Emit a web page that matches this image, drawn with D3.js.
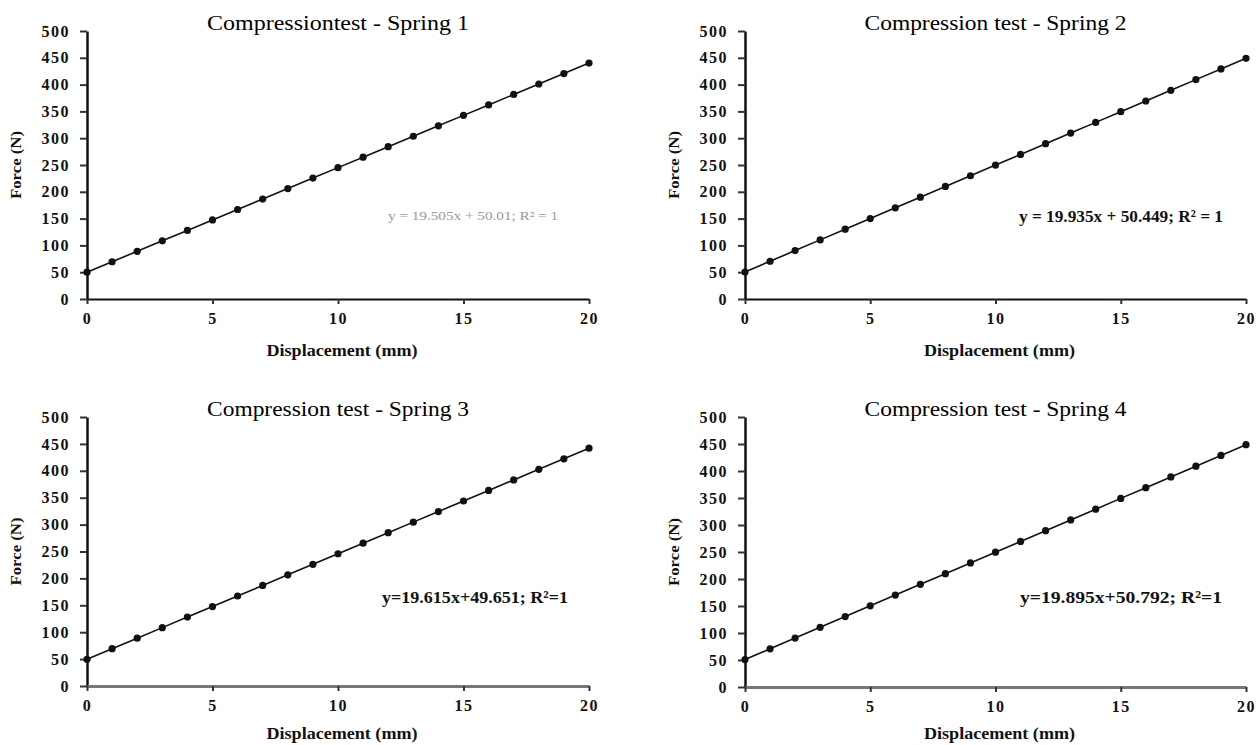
<!DOCTYPE html>
<html>
<head>
<meta charset="utf-8">
<script src="https://cdnjs.cloudflare.com/ajax/libs/d3/7.8.5/d3.min.js"></script>
<style>
  body { margin: 0; background: #fff; }
  svg { display: block; font-family: "Liberation Serif", "DejaVu Serif", serif; }
</style>
</head>
<body>
<div id="chart"></div>
<script>
// data
const displacement = [0,1,2,3,4,5,6,7,8,9,10,11,12,13,14,15,16,17,18,19,20];
const spring1 = [50.0,69.5,89.0,108.5,128.0,147.5,167.0,186.5,206.1,225.6,245.1,264.6,284.1,303.6,323.1,342.6,362.1,381.6,401.1,420.6,440.1];
const spring2 = [50.4,70.4,90.3,110.3,130.2,150.1,170.1,190.0,210.0,229.9,249.8,269.7,289.7,309.6,329.5,349.5,369.4,389.3,409.3,429.2,449.1];
const spring3 = [49.7,69.3,88.9,108.5,128.1,147.7,167.3,186.9,206.6,226.2,245.8,265.4,285.0,304.6,324.3,343.9,363.5,383.1,402.7,422.3,442.0];
const spring4 = [50.8,70.7,90.6,110.5,130.4,150.3,170.2,190.1,209.9,229.8,249.7,269.6,289.5,309.4,329.3,349.3,369.1,389.0,408.9,428.8,448.7];
const titles = ["Compressiontest - Spring 1", "Compression test - Spring 2", "Compression test - Spring 3", "Compression test - Spring 4"];
const equations = ["y = 19.505x + 50.01; R\u00b2 = 1", "y = 19.935x + 50.449; R\u00b2 = 1", "y=19.615x+49.651; R\u00b2=1", "y=19.895x+50.792; R\u00b2=1"];
const xTicks = [0, 5, 10, 15, 20];
const yTicks = [0, 50, 100, 150, 200, 250, 300, 350, 400, 450, 500];
const xLabel = "Displacement (mm)";
const yLabel = "Force (N)";

let w = 1259;
let h = 745;

const svg = d3.select("#chart")
              .append("svg")
              .attr("width", w)
              .attr("height", h);

// panel boxes (pixel layout)
const panels = [
  {x0: 87,  x1: 589,  top: 31,  bottom: 299, labY: 57, eqX: 386, eqY: 189, eqLen: 170, eqSize: 12, eqCol: "#9a9a9a", eqW: "normal", xCol: "#111", xW: 2},
  {x0: 745, x1: 1246, top: 31,  bottom: 299, labY: 57, eqX: 376, eqY: 191, eqLen: 204, eqSize: 17, eqCol: "#111", eqW: "bold", xCol: "#111", xW: 2},
  {x0: 87,  x1: 589,  top: 417, bottom: 686, labY: 53, eqX: 388, eqY: 186, eqLen: 186, eqSize: 17, eqCol: "#111", eqW: "bold", xCol: "#777", xW: 3},
  {x0: 745, x1: 1246, top: 417, bottom: 687, labY: 52, eqX: 376, eqY: 186, eqLen: 202, eqSize: 17, eqCol: "#111", eqW: "bold", xCol: "#777", xW: 3}
];
const series = [spring1, spring2, spring3, spring4];

panels.forEach((p, k) => {
  const xScale = d3.scaleLinear().domain([0, 20]).range([p.x0, p.x1]);
  const yScale = d3.scaleLinear().domain([0, 500]).range([p.bottom, p.top]);
  const g = svg.append("g");

  // y axis
  const yAxis = g.append("g")
     .attr("transform", "translate(" + p.x0 + ",0)")
     .call(d3.axisLeft(yScale).tickValues(yTicks).tickSize(7).tickSizeOuter(0).tickPadding(10));
  yAxis.select(".domain").attr("stroke", "#111").attr("stroke-width", 2.5);
  yAxis.selectAll(".tick line").attr("stroke", "#333").attr("stroke-width", 2);
  yAxis.selectAll("text")
       .attr("font-family", "Liberation Serif")
       .attr("font-size", 16).attr("font-weight", "bold")
       .attr("letter-spacing", 1.5).attr("fill", "#111");

  // x axis
  const xAxis = g.append("g")
     .attr("transform", "translate(0," + p.bottom + ")")
     .call(d3.axisBottom(xScale).tickValues(xTicks).tickSize(5).tickSizeOuter(0).tickPadding(9));
  xAxis.select(".domain").attr("stroke", p.xCol).attr("stroke-width", p.xW);
  xAxis.selectAll(".tick line").attr("stroke", "#333").attr("stroke-width", 2);
  xAxis.selectAll("text")
       .attr("font-family", "Liberation Serif")
       .attr("font-size", 16).attr("font-weight", "bold")
       .attr("letter-spacing", 1.5).attr("fill", "#111");

  // title
  g.append("text")
   .attr("x", (p.x0 + p.x1) / 2)
   .attr("y", p.top - 1)
   .attr("text-anchor", "middle")
   .attr("font-size", 20)
   .attr("textLength", 262).attr("lengthAdjust", "spacingAndGlyphs")
   .attr("fill", "#000")
   .text(titles[k]);

  // axis titles
  g.append("text")
   .attr("x", (p.x0 + p.x1) / 2 + 4)
   .attr("y", p.bottom + p.labY)
   .attr("text-anchor", "middle")
   .attr("font-size", 16).attr("font-weight", "bold")
   .attr("textLength", 151).attr("lengthAdjust", "spacingAndGlyphs")
   .attr("fill", "#111")
   .text(xLabel);

  g.append("text")
   .attr("transform", "translate(" + (p.x0 - 66) + "," + ((p.top + p.bottom) / 2) + ") rotate(-90)")
   .attr("text-anchor", "middle")
   .attr("font-size", 15).attr("font-weight", "bold")
   .attr("textLength", 68).attr("lengthAdjust", "spacingAndGlyphs")
   .attr("fill", "#111")
   .text(yLabel);

  // series line and points
  const pts = displacement.map((d, i) => [d, series[k][i]]);
  const line = d3.line().x(d => xScale(d[0])).y(d => yScale(d[1]));
  g.append("path")
   .datum(pts)
   .attr("d", line)
   .attr("fill", "none")
   .attr("stroke", "#111")
   .attr("stroke-width", 1.6);

  g.selectAll("circle")
   .data(pts)
   .enter()
   .append("circle")
   .attr("cx", d => xScale(d[0]))
   .attr("cy", d => yScale(d[1]))
   .attr("r", 3.6)
   .attr("fill", "#111");

  // regression equation
  g.append("text")
   .attr("x", p.x0 + p.eqX)
   .attr("y", p.top + p.eqY)
   .attr("text-anchor", "middle")
   .attr("font-size", p.eqSize).attr("font-weight", p.eqW)
   .attr("textLength", p.eqLen).attr("lengthAdjust", "spacingAndGlyphs")
   .attr("fill", p.eqCol)
   .text(equations[k]);
});
</script>
</body>
</html>
